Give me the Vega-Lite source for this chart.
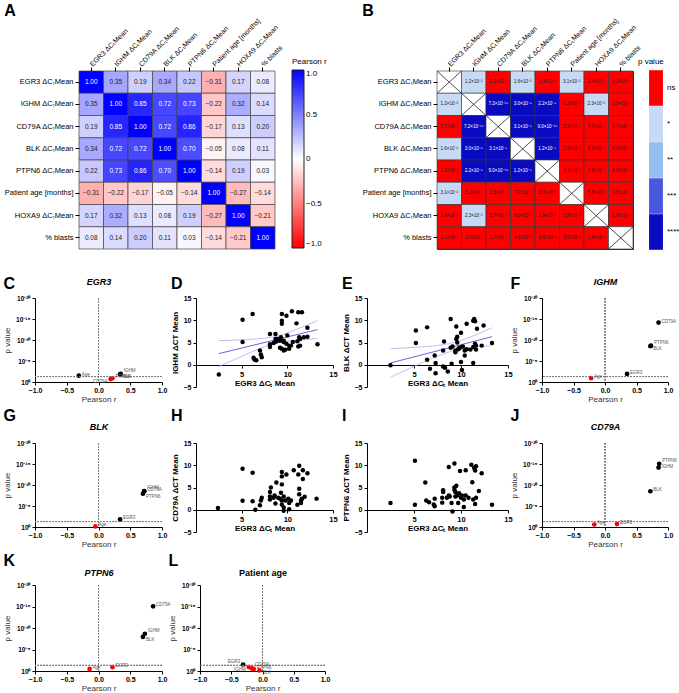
{
"$schema":"https://vega.github.io/schema/vega-lite/v6.json",
"padding":{"left":3,"top":2,"right":1,"bottom":0},
"background":"white",
"config":{
 "font":"Liberation Sans",
 "view":{"stroke":null},
 "axis":{"grid":false,"domainColor":"#000","tickColor":"#000","labelColor":"#000","titleColor":"#000","domainWidth":1,"tickWidth":1,"labelOverlap":false},
 "title":{"fontSize":16,"fontWeight":"bold","anchor":"start","frame":"bounds","color":"#000"}
},
"datasets":{
 "rmat":[
  {"row":"EGR3","EGR3":1.00,"IGHM":0.35,"CD79A":0.19,"BLK":0.34,"PTPN6":0.22,"Age":-0.31,"HOXA9":0.17,"blasts":0.08},
  {"row":"IGHM","EGR3":0.35,"IGHM":1.00,"CD79A":0.85,"BLK":0.72,"PTPN6":0.73,"Age":-0.22,"HOXA9":0.32,"blasts":0.14},
  {"row":"CD79A","EGR3":0.19,"IGHM":0.85,"CD79A":1.00,"BLK":0.72,"PTPN6":0.86,"Age":-0.17,"HOXA9":0.13,"blasts":0.20},
  {"row":"BLK","EGR3":0.34,"IGHM":0.72,"CD79A":0.72,"BLK":1.00,"PTPN6":0.70,"Age":-0.05,"HOXA9":0.08,"blasts":0.11},
  {"row":"PTPN6","EGR3":0.22,"IGHM":0.73,"CD79A":0.86,"BLK":0.70,"PTPN6":1.00,"Age":-0.14,"HOXA9":0.19,"blasts":0.03},
  {"row":"Age","EGR3":-0.31,"IGHM":-0.22,"CD79A":-0.17,"BLK":-0.05,"PTPN6":-0.14,"Age":1.00,"HOXA9":-0.27,"blasts":-0.14},
  {"row":"HOXA9","EGR3":0.17,"IGHM":0.32,"CD79A":0.13,"BLK":0.08,"PTPN6":0.19,"Age":-0.27,"HOXA9":1.00,"blasts":-0.21},
  {"row":"blasts","EGR3":0.08,"IGHM":0.14,"CD79A":0.20,"BLK":0.11,"PTPN6":0.03,"Age":-0.14,"HOXA9":-0.21,"blasts":1.00}
 ],
 "pmat":[
  {"row":"EGR3","EGR3":null,"IGHM":1.2e-2,"CD79A":2.0e-1,"BLK":1.6e-2,"PTPN6":1.3e-1,"Age":3.1e-2,"HOXA9":2.4e-1,"blasts":6.1e-1},
  {"row":"IGHM","EGR3":1.2e-2,"IGHM":null,"CD79A":7.2e-15,"BLK":3.0e-9,"PTPN6":2.2e-9,"Age":1.2e-1,"HOXA9":2.3e-2,"blasts":3.5e-1},
  {"row":"CD79A","EGR3":2.0e-1,"IGHM":7.2e-15,"CD79A":null,"BLK":3.1e-9,"PTPN6":9.0e-16,"Age":2.5e-1,"HOXA9":3.7e-1,"blasts":1.7e-1},
  {"row":"BLK","EGR3":1.6e-2,"IGHM":3.0e-9,"CD79A":3.1e-9,"BLK":null,"PTPN6":1.2e-8,"Age":7.2e-1,"HOXA9":6.0e-1,"blasts":4.5e-1},
  {"row":"PTPN6","EGR3":1.3e-1,"IGHM":2.2e-9,"CD79A":9.0e-16,"BLK":1.2e-8,"PTPN6":null,"Age":3.3e-1,"HOXA9":1.9e-1,"blasts":8.5e-1},
  {"row":"Age","EGR3":3.1e-2,"IGHM":1.2e-1,"CD79A":2.5e-1,"BLK":7.2e-1,"PTPN6":3.3e-1,"Age":null,"HOXA9":5.8e-2,"blasts":3.5e-1},
  {"row":"HOXA9","EGR3":2.4e-1,"IGHM":2.3e-2,"CD79A":3.7e-1,"BLK":6.0e-1,"PTPN6":1.9e-1,"Age":5.8e-2,"HOXA9":null,"blasts":1.6e-1},
  {"row":"blasts","EGR3":6.1e-1,"IGHM":3.5e-1,"CD79A":1.7e-1,"BLK":4.5e-1,"PTPN6":8.5e-1,"Age":3.5e-1,"HOXA9":1.6e-1,"blasts":null}
 ],
 "volc":[
  {"panel":"EGR3","gene":"IGHM","r":0.35,"p":1.2e-2},
  {"panel":"EGR3","gene":"CD79A","r":0.19,"p":2.0e-1},
  {"panel":"EGR3","gene":"BLK","r":0.34,"p":1.6e-2},
  {"panel":"EGR3","gene":"PTPN6","r":0.22,"p":1.3e-1},
  {"panel":"EGR3","gene":"Age","r":-0.31,"p":3.1e-2},
  {"panel":"IGHM","gene":"EGR3","r":0.35,"p":1.2e-2},
  {"panel":"IGHM","gene":"CD79A","r":0.85,"p":7.2e-15},
  {"panel":"IGHM","gene":"BLK","r":0.72,"p":3.0e-9},
  {"panel":"IGHM","gene":"PTPN6","r":0.73,"p":2.2e-9},
  {"panel":"IGHM","gene":"Age","r":-0.22,"p":1.2e-1},
  {"panel":"BLK","gene":"EGR3","r":0.34,"p":1.6e-2},
  {"panel":"BLK","gene":"IGHM","r":0.72,"p":3.0e-9},
  {"panel":"BLK","gene":"CD79A","r":0.72,"p":3.1e-9},
  {"panel":"BLK","gene":"PTPN6","r":0.70,"p":1.2e-8},
  {"panel":"BLK","gene":"Age","r":-0.05,"p":7.2e-1},
  {"panel":"CD79A","gene":"EGR3","r":0.19,"p":2.0e-1},
  {"panel":"CD79A","gene":"IGHM","r":0.85,"p":7.2e-15},
  {"panel":"CD79A","gene":"BLK","r":0.72,"p":3.1e-9},
  {"panel":"CD79A","gene":"PTPN6","r":0.86,"p":9.0e-16},
  {"panel":"CD79A","gene":"Age","r":-0.17,"p":2.5e-1},
  {"panel":"PTPN6","gene":"EGR3","r":0.22,"p":1.3e-1},
  {"panel":"PTPN6","gene":"IGHM","r":0.73,"p":2.2e-9},
  {"panel":"PTPN6","gene":"CD79A","r":0.86,"p":9.0e-16},
  {"panel":"PTPN6","gene":"BLK","r":0.70,"p":1.2e-8},
  {"panel":"PTPN6","gene":"Age","r":-0.14,"p":3.3e-1},
  {"panel":"Age","gene":"EGR3","r":-0.31,"p":3.1e-2},
  {"panel":"Age","gene":"IGHM","r":-0.22,"p":1.2e-1},
  {"panel":"Age","gene":"CD79A","r":-0.17,"p":2.5e-1},
  {"panel":"Age","gene":"BLK","r":-0.05,"p":7.2e-1},
  {"panel":"Age","gene":"PTPN6","r":-0.14,"p":3.3e-1}
 ],
 "dfit":[
  {"k":"fit","x":2.5,"y":2.5},{"k":"fit","x":13.3,"y":7.9},
  {"k":"lo","x":2.5,"y":-0.4},{"k":"lo","x":5,"y":1.88},{"k":"lo","x":7,"y":3.64},{"k":"lo","x":9,"y":5.05},{"k":"lo","x":11,"y":5.45},{"k":"lo","x":13.3,"y":5.9},
  {"k":"hi","x":2.5,"y":5.4},{"k":"hi","x":5,"y":5.62},{"k":"hi","x":7,"y":5.86},{"k":"hi","x":9,"y":6.45},{"k":"hi","x":11,"y":7.95},{"k":"hi","x":13.3,"y":9.9}
 ],
 "efit":[
  {"k":"fit","x":2.5,"y":0.4},{"k":"fit","x":13.3,"y":6.3},
  {"k":"lo","x":2.5,"y":-2.8},{"k":"lo","x":5,"y":-0.37},{"k":"lo","x":7,"y":1.49},{"k":"lo","x":9.3,"y":3.22},{"k":"lo","x":11,"y":3.86},{"k":"lo","x":13.3,"y":4.28},
  {"k":"hi","x":2.5,"y":3.6},{"k":"hi","x":5,"y":3.91},{"k":"hi","x":7,"y":4.23},{"k":"hi","x":9.3,"y":5.02},{"k":"hi","x":11,"y":6.22},{"k":"hi","x":13.3,"y":8.32}
 ],
 "dpts":[
  {"x":2.5,"y":-2.2},{"x":5.1,"y":10.1},{"x":5.1,"y":5.1},{"x":6.2,"y":11.4},{"x":6.3,"y":1.6},{"x":6.4,"y":1.2},{"x":6.6,"y":1.0},{"x":7.0,"y":3.2},{"x":7.1,"y":2.3},{"x":7.2,"y":1.7},
  {"x":8.1,"y":6.9},{"x":8.1,"y":4.6},{"x":8.1,"y":4.0},{"x":8.5,"y":4.9},{"x":8.7,"y":6.9},{"x":8.7,"y":5.8},{"x":8.8,"y":5.2},{"x":9.0,"y":5.8},{"x":9.2,"y":5.4},{"x":9.3,"y":6.2},
  {"x":9.4,"y":11.4},{"x":9.4,"y":9.9},{"x":9.4,"y":9.2},{"x":9.6,"y":5.4},{"x":9.6,"y":5.1},{"x":9.4,"y":3.6},{"x":9.6,"y":3.2},{"x":9.8,"y":3.4},{"x":9.9,"y":11.0},{"x":10.0,"y":6.6},
  {"x":9.9,"y":4.7},{"x":10.2,"y":4.3},{"x":10.4,"y":4.3},{"x":10.2,"y":3.6},{"x":10.5,"y":12.0},{"x":11.0,"y":9.3},{"x":11.2,"y":11.8},{"x":11.6,"y":11.8},{"x":11.3,"y":6.2},{"x":11.1,"y":5.3},
  {"x":11.4,"y":5.8},{"x":11.2,"y":4.1},{"x":11.4,"y":4.3},{"x":11.8,"y":6.2},{"x":12.2,"y":8.3},{"x":12.2,"y":6.3},{"x":13.3,"y":4.6},{"x":10.6,"y":5.1},{"x":9.2,"y":3.8}
 ],
 "epts":[
  {"x":2.5,"y":-0.1},{"x":5.2,"y":7.7},{"x":5.2,"y":4.9},{"x":6.4,"y":8.4},{"x":6.4,"y":1.1},{"x":6.7,"y":-0.9},{"x":7.2,"y":2.1},{"x":7.3,"y":0.4},{"x":7.3,"y":-1.9},{"x":8.1,"y":-0.4},
  {"x":8.3,"y":-0.7},{"x":8.2,"y":5.2},{"x":8.1,"y":3.2},{"x":8.6,"y":-1.5},{"x":8.9,"y":10.3},{"x":8.9,"y":3.8},{"x":9.0,"y":0.2},{"x":9.1,"y":4.1},{"x":9.4,"y":3.2},{"x":9.4,"y":2.8},
  {"x":9.5,"y":8.6},{"x":9.5,"y":5.8},{"x":9.6,"y":5.0},{"x":9.6,"y":6.3},{"x":9.7,"y":3.5},{"x":9.8,"y":3.7},{"x":9.9,"y":3.9},{"x":10.0,"y":7.2},{"x":10.0,"y":0.6},{"x":10.1,"y":-1.2},
  {"x":10.2,"y":4.1},{"x":10.4,"y":3.2},{"x":10.4,"y":2.1},{"x":10.6,"y":3.5},{"x":10.6,"y":9.2},{"x":11.0,"y":3.4},{"x":11.3,"y":9.9},{"x":11.4,"y":10.3},{"x":11.5,"y":9.8},{"x":11.3,"y":4.0},
  {"x":11.5,"y":4.7},{"x":11.6,"y":4.3},{"x":11.6,"y":3.4},{"x":11.7,"y":8.1},{"x":11.3,"y":0.4},{"x":12.2,"y":4.3},{"x":12.4,"y":8.8},{"x":13.3,"y":4.9}
 ],
 "hpts":[
  {"x":2.4,"y":0.4},{"x":5.1,"y":9.2},{"x":5.1,"y":2.0},{"x":6.2,"y":8.3},{"x":6.2,"y":1.9},{"x":6.5,"y":0.0},{"x":7.0,"y":1.0},{"x":7.1,"y":2.1},{"x":7.2,"y":2.7},{"x":8.1,"y":4.0},
  {"x":8.1,"y":3.0},{"x":8.1,"y":2.3},{"x":8.2,"y":5.0},{"x":8.5,"y":2.7},{"x":8.6,"y":3.2},{"x":8.7,"y":1.4},{"x":8.8,"y":6.1},{"x":9.0,"y":2.7},{"x":9.2,"y":2.5},{"x":9.3,"y":3.8},
  {"x":9.4,"y":2.1},{"x":9.4,"y":8.5},{"x":9.4,"y":7.5},{"x":9.4,"y":5.7},{"x":9.4,"y":1.2},{"x":9.6,"y":0.5},{"x":9.6,"y":-0.2},{"x":9.6,"y":3.0},{"x":9.8,"y":2.1},{"x":9.9,"y":7.9},
  {"x":10.1,"y":2.5},{"x":10.2,"y":1.5},{"x":10.2,"y":0.1},{"x":10.4,"y":2.1},{"x":10.7,"y":8.9},{"x":11.1,"y":1.1},{"x":11.3,"y":9.9},{"x":11.2,"y":7.9},{"x":11.3,"y":4.7},{"x":11.3,"y":3.5},
  {"x":11.5,"y":2.1},{"x":11.5,"y":1.5},{"x":11.6,"y":2.5},{"x":11.7,"y":8.9},{"x":11.7,"y":6.9},{"x":11.9,"y":2.9},{"x":12.2,"y":8.2},{"x":13.2,"y":2.5}
 ],
 "ipts":[
  {"x":2.5,"y":1.5},{"x":5.1,"y":11.0},{"x":5.1,"y":1.1},{"x":6.2,"y":6.1},{"x":6.3,"y":2.1},{"x":6.6,"y":1.7},{"x":7.1,"y":1.2},{"x":7.2,"y":2.5},{"x":7.2,"y":0.8},{"x":8.0,"y":2.7},
  {"x":8.1,"y":4.0},{"x":8.1,"y":4.4},{"x":8.0,"y":1.6},{"x":8.5,"y":2.7},{"x":8.7,"y":3.2},{"x":8.7,"y":9.6},{"x":8.8,"y":3.0},{"x":9.0,"y":1.5},{"x":9.1,"y":-0.4},{"x":9.3,"y":10.4},
  {"x":9.3,"y":4.5},{"x":9.3,"y":5.0},{"x":9.4,"y":4.0},{"x":9.4,"y":3.0},{"x":9.5,"y":5.4},{"x":9.6,"y":3.2},{"x":9.7,"y":1.5},{"x":9.8,"y":3.7},{"x":9.9,"y":8.7},{"x":10.0,"y":2.7},
  {"x":10.1,"y":3.2},{"x":10.3,"y":2.3},{"x":10.3,"y":0.6},{"x":10.5,"y":8.9},{"x":10.5,"y":3.2},{"x":10.8,"y":2.7},{"x":11.1,"y":10.1},{"x":11.2,"y":6.2},{"x":11.3,"y":2.3},{"x":11.4,"y":9.4},
  {"x":11.5,"y":8.8},{"x":11.6,"y":9.8},{"x":11.5,"y":1.3},{"x":11.6,"y":2.7},{"x":11.9,"y":4.2},{"x":12.2,"y":8.2},{"x":13.3,"y":1.1}
 ]
},
"concat":[
 {"hconcat":[
  {"title":{"text":"A","offset":-2},
   "width":240,"height":178,
   "data":{"name":"rmat"},
   "transform":[{"fold":["EGR3","IGHM","CD79A","BLK","PTPN6","Age","HOXA9","blasts"],"as":["col","r"]}],
   "encoding":{
    "x":{"field":"col","type":"nominal","sort":["EGR3","IGHM","CD79A","BLK","PTPN6","Age","HOXA9","blasts"],"scale":{"range":[44,240]},
         "axis":{"orient":"top","title":null,"labelAngle":-45,"labelAlign":"left","labelBaseline":"middle","labelFontSize":7,"domain":false,"tickSize":4,"labelPadding":2,
                 "labelExpr":"datum.value=='Age'?'Patient age [months]':datum.value=='blasts'?'% blasts':datum.value+' ΔCₜMean'"}},
    "y":{"field":"row","type":"nominal","sort":["EGR3","IGHM","CD79A","BLK","PTPN6","Age","HOXA9","blasts"],
         "axis":{"title":null,"offset":-44,"labelFontSize":7.5,"domain":false,"tickSize":4,"labelPadding":2,
                 "labelExpr":"datum.value=='Age'?'Patient age [months]':datum.value=='blasts'?'% blasts':datum.value+' ΔCₜMean'"}}
   },
   "layer":[
    {"mark":{"type":"rect","stroke":"#444","strokeWidth":0.7},
     "encoding":{"color":{"field":"r","type":"quantitative","scale":{"domain":[-1,0,1],"range":["#ff0000","#ffffff","#0000ff"],"interpolate":"rgb"},
       "legend":{"title":"Pearson r","orient":"none","legendX":257,"legendY":-13,"direction":"vertical","gradientLength":178,"gradientThickness":12,
                 "values":[-1,-0.5,0,0.5,1],"labelExpr":"datum.value==0?'0':format(datum.value,'.1f')","labelFontSize":8,"titleFontSize":8,"titleFontWeight":"normal","titlePadding":4,
                 "gradientStrokeColor":"#222","gradientStrokeWidth":1}}}},
    {"mark":{"type":"text","fontSize":6.5},
     "encoding":{"text":{"field":"r","type":"quantitative","format":".2f"},
                 "color":{"condition":{"test":"datum.r>0.6","value":"white"},"value":"#222"}}}
   ]
  },
  {"title":{"text":"B","offset":-2},
   "width":196,"height":178,
   "data":{"name":"pmat"},
   "view":{"stroke":"#333"},
   "transform":[
    {"fold":["EGR3","IGHM","CD79A","BLK","PTPN6","Age","HOXA9","blasts"],"as":["col","p"]},
    {"calculate":"datum.p==null?'diag':datum.p<=0.0001?'****':datum.p<=0.001?'***':datum.p<=0.01?'**':datum.p<=0.05?'*':'ns'","as":"sig"},
    {"calculate":"datum.p==null?0:floor(log(datum.p)/LN10+1e-9)","as":"e"},
    {"calculate":"datum.p==null?'':format(datum.p/pow(10,datum.e),'.1f')+'×10'+replace(replace(replace(replace(replace(replace(replace(replace(replace(replace(replace(toString(datum.e),'-','⁻'),regexp('0','g'),'⁰'),regexp('1','g'),'¹'),regexp('2','g'),'²'),regexp('3','g'),'³'),regexp('4','g'),'⁴'),regexp('5','g'),'⁵'),regexp('6','g'),'⁶'),regexp('7','g'),'⁷'),regexp('8','g'),'⁸'),regexp('9','g'),'⁹')","as":"lab"}
   ],
   "encoding":{
    "x":{"field":"col","type":"nominal","sort":["EGR3","IGHM","CD79A","BLK","PTPN6","Age","HOXA9","blasts"],
         "axis":{"orient":"top","title":null,"labelAngle":-45,"labelAlign":"left","labelBaseline":"middle","labelFontSize":7,"domain":false,"tickSize":4,"labelPadding":2,
                 "labelExpr":"datum.value=='Age'?'Patient age [months]':datum.value=='blasts'?'% blasts':datum.value+' ΔCₜMean'"}},
    "y":{"field":"row","type":"nominal","sort":["EGR3","IGHM","CD79A","BLK","PTPN6","Age","HOXA9","blasts"],
         "axis":{"title":null,"labelFontSize":7.5,"domain":false,"tickSize":4,"labelPadding":2,
                 "labelExpr":"datum.value=='Age'?'Patient age [months]':datum.value=='blasts'?'% blasts':datum.value+' ΔCₜMean'"}}
   },
   "layer":[
    {"mark":{"type":"rect","stroke":"#333","strokeWidth":0.6},
     "encoding":{"color":{"field":"sig","type":"nominal","scale":{"domain":["ns","*","**","***","****","diag"],"range":["#ff0000","#c6d9f5","#94bdf0","#4a58e0","#0a0ac0","#ffffff"]},
       "legend":{"title":"p value","orient":"none","legendX":201,"legendY":-13,"direction":"vertical","values":["ns","*","**","***","****"],
                 "symbolType":"M-0.39,-1V1H0.39V-1Z","symbolSize":1267,"symbolStrokeWidth":0,"symbolOpacity":1,"rowPadding":0,
                 "labelFontSize":8,"labelOffset":-7,"titleFontSize":8,"titleFontWeight":"normal","titlePadding":4}}}},
    {"transform":[{"filter":"datum.sig=='diag'"}],
     "mark":{"type":"point","shape":"M-1.1,-1L1.1,1M-1.1,1L1.1,-1","size":495,"filled":false,"stroke":"#222","strokeWidth":0.8,"opacity":1}},
    {"transform":[{"filter":"datum.sig!='diag'"}],
     "mark":{"type":"text","fontSize":4.6},
     "encoding":{"text":{"field":"lab"},"color":{"condition":{"test":"datum.sig=='****'","value":"white"},"value":"#222"}}}
   ]
  }
 ],"spacing":162,"bounds":"flush"},
 {"concat":[
  {"hconcat":[
   {"title":{"text":"C","offset":-15},
    "width":127,"height":84,
    "data":{"name":"volc"},
    "transform":[{"filter":"datum.panel=='EGR3'"},{"calculate":"-log(datum.p)/LN10","as":"nlp"},{"calculate":"datum.panel+'|'+datum.gene","as":"k"},
     {"calculate":"indexof(['EGR3|IGHM','IGHM|PTPN6','BLK|IGHM','CD79A|PTPN6','PTPN6|IGHM','Age|CD79A'],datum.k)>=0?'ru':indexof(['EGR3|BLK','IGHM|BLK','BLK|PTPN6','PTPN6|BLK','Age|BLK'],datum.k)>=0?'rd':indexof(['Age|EGR3'],datum.k)>=0?'lu':indexof(['EGR3|CD79A','Age|IGHM'],datum.k)>=0?'ld':'r'","as":"pos"}],
    "layer":[
     {"mark":{"type":"circle","size":22,"opacity":1},"encoding":{
       "x":{"field":"r","type":"quantitative","scale":{"domain":[-1,1]},"axis":{"values":[-1,-0.5,0,0.5,1],"format":".1f","title":"Pearson r","titleFontWeight":"normal","titleFontSize":8,"titleColor":"#333","labelFontSize":7,"labelFontWeight":"bold","tickSize":3,"labelPadding":1,"titlePadding":2,"labelFlush":false}},
       "y":{"field":"nlp","type":"quantitative","scale":{"domain":[0,20]},"axis":{"values":[0,5,10,15,20],"tickCount":5,"labelOverlap":false,"labelExpr":"datum.value==0?'10⁰':datum.value==5?'10⁻⁵':datum.value==10?'10⁻¹⁰':datum.value==15?'10⁻¹⁵':'10⁻²⁰'","title":"p value","titleFontWeight":"normal","titleFontSize":8,"titleColor":"#333","labelFontSize":6.5,"labelFontWeight":"bold","tickSize":3,"labelFlush":false}},
       "color":{"condition":{"test":"datum.p<0.05","value":"black"},"value":"red"}}},
     {"mark":{"type":"rule","strokeDash":[1.5,1.5],"color":"#777","strokeWidth":0.8},"encoding":{"y":{"datum":1.3,"type":"quantitative","axis":{"values":[0,5,10,15,20],"tickCount":5,"labelOverlap":false,"labelExpr":"datum.value==0?'10⁰':datum.value==5?'10⁻⁵':datum.value==10?'10⁻¹⁰':datum.value==15?'10⁻¹⁵':'10⁻²⁰'","title":"p value","titleFontWeight":"normal","titleFontSize":8,"titleColor":"#333","labelFontSize":6.5,"labelFontWeight":"bold","tickSize":3,"labelFlush":false}}}},
     {"mark":{"type":"rule","strokeDash":[1.5,1.5],"color":"#777","strokeWidth":0.8},"encoding":{"x":{"datum":0,"type":"quantitative","axis":null}}},
     {"mark":{"type":"point","opacity":0},"encoding":{"x":{"field":"r","type":"quantitative","axis":{"orient":"top","title":"EGR3","titleFontStyle":"italic","titleFontWeight":"bold","titleFontSize":9,"labels":false,"ticks":false,"domain":false,"titlePadding":12}}}},
     {"transform":[{"filter":"datum.pos=='r'"}],"mark":{"type":"text","fontSize":4.5,"color":"#555","align":"left","dx":3,"dy":-1},"encoding":{"x":{"field":"r","type":"quantitative","axis":null},"y":{"field":"nlp","type":"quantitative","axis":{"values":[0,5,10,15,20],"tickCount":5,"labelOverlap":false,"labelExpr":"datum.value==0?'10⁰':datum.value==5?'10⁻⁵':datum.value==10?'10⁻¹⁰':datum.value==15?'10⁻¹⁵':'10⁻²⁰'","title":"p value","titleFontWeight":"normal","titleFontSize":8,"titleColor":"#333","labelFontSize":6.5,"labelFontWeight":"bold","tickSize":3,"labelFlush":false}},"text":{"field":"gene"}}},
     {"transform":[{"filter":"datum.pos=='ru'"}],"mark":{"type":"text","fontSize":4.5,"color":"#555","align":"left","dx":3,"dy":-3},"encoding":{"x":{"field":"r","type":"quantitative","axis":null},"y":{"field":"nlp","type":"quantitative","axis":{"values":[0,5,10,15,20],"tickCount":5,"labelOverlap":false,"labelExpr":"datum.value==0?'10⁰':datum.value==5?'10⁻⁵':datum.value==10?'10⁻¹⁰':datum.value==15?'10⁻¹⁵':'10⁻²⁰'","title":"p value","titleFontWeight":"normal","titleFontSize":8,"titleColor":"#333","labelFontSize":6.5,"labelFontWeight":"bold","tickSize":3,"labelFlush":false}},"text":{"field":"gene"}}},
     {"transform":[{"filter":"datum.pos=='rd'"}],"mark":{"type":"text","fontSize":4.5,"color":"#555","align":"left","dx":3,"dy":3},"encoding":{"x":{"field":"r","type":"quantitative","axis":null},"y":{"field":"nlp","type":"quantitative","axis":{"values":[0,5,10,15,20],"tickCount":5,"labelOverlap":false,"labelExpr":"datum.value==0?'10⁰':datum.value==5?'10⁻⁵':datum.value==10?'10⁻¹⁰':datum.value==15?'10⁻¹⁵':'10⁻²⁰'","title":"p value","titleFontWeight":"normal","titleFontSize":8,"titleColor":"#333","labelFontSize":6.5,"labelFontWeight":"bold","tickSize":3,"labelFlush":false}},"text":{"field":"gene"}}},
     {"transform":[{"filter":"datum.pos=='lu'"}],"mark":{"type":"text","fontSize":4.5,"color":"#555","align":"right","dx":-3,"dy":-3},"encoding":{"x":{"field":"r","type":"quantitative","axis":null},"y":{"field":"nlp","type":"quantitative","axis":{"values":[0,5,10,15,20],"tickCount":5,"labelOverlap":false,"labelExpr":"datum.value==0?'10⁰':datum.value==5?'10⁻⁵':datum.value==10?'10⁻¹⁰':datum.value==15?'10⁻¹⁵':'10⁻²⁰'","title":"p value","titleFontWeight":"normal","titleFontSize":8,"titleColor":"#333","labelFontSize":6.5,"labelFontWeight":"bold","tickSize":3,"labelFlush":false}},"text":{"field":"gene"}}},
     {"transform":[{"filter":"datum.pos=='ld'"}],"mark":{"type":"text","fontSize":4.5,"color":"#555","align":"right","dx":-3,"dy":3},"encoding":{"x":{"field":"r","type":"quantitative","axis":null},"y":{"field":"nlp","type":"quantitative","axis":{"values":[0,5,10,15,20],"tickCount":5,"labelOverlap":false,"labelExpr":"datum.value==0?'10⁰':datum.value==5?'10⁻⁵':datum.value==10?'10⁻¹⁰':datum.value==15?'10⁻¹⁵':'10⁻²⁰'","title":"p value","titleFontWeight":"normal","titleFontSize":8,"titleColor":"#333","labelFontSize":6.5,"labelFontWeight":"bold","tickSize":3,"labelFlush":false}},"text":{"field":"gene"}}}
    ],
    "resolve":{"axis":{"x":"independent"}}
   },
   {"title":{"text":"D","offset":2},
    "width":137,"height":89,
    "encoding":{
     "x":{"field":"x","type":"quantitative","scale":{"domain":[0,15]},"axis":{"values":[0,5,10,15],"labelExpr":"datum.value==0?'':datum.label","offset":-22,"title":"EGR3 ΔCₜ Mean","titleFontSize":8,"titleFontWeight":"bold","labelFontSize":7.5,"labelFontWeight":"bold","tickSize":3,"titlePadding":2,"labelFlush":false}},
     "y":{"field":"y","type":"quantitative","scale":{"domain":[-5,15]},"axis":{"values":[-5,0,5,10,15],"title":"IGHM ΔCT Mean","titleFontSize":8,"titleFontWeight":"bold","labelFontSize":7,"labelFontWeight":"bold","tickSize":3,"labelFlush":false,"titlePadding":4}}
    },
    "layer":[
     {"data":{"name":"dfit"},"mark":{"type":"line","strokeWidth":0.8,"interpolate":"monotone"},"encoding":{"color":{"field":"k","type":"nominal","scale":{"domain":["fit","lo","hi"],"range":["#3c3cdc","#aeaef0","#aeaef0"]},"legend":null}}},
     {"data":{"name":"dpts"},"mark":{"type":"circle","size":20,"color":"black","opacity":1}}
    ]
   },
   {"title":{"text":"E","offset":2},
    "width":141,"height":89,
    "encoding":{
     "x":{"field":"x","type":"quantitative","scale":{"domain":[0,15]},"axis":{"values":[0,5,10,15],"labelExpr":"datum.value==0?'':datum.label","offset":-22,"title":"EGR3 ΔCₜ Mean","titleFontSize":8,"titleFontWeight":"bold","labelFontSize":7.5,"labelFontWeight":"bold","tickSize":3,"titlePadding":2,"labelFlush":false}},
     "y":{"field":"y","type":"quantitative","scale":{"domain":[-5,15]},"axis":{"values":[-5,0,5,10,15],"title":"BLK ΔCT Mean","titleFontSize":8,"titleFontWeight":"bold","labelFontSize":7,"labelFontWeight":"bold","tickSize":3,"labelFlush":false,"titlePadding":4}}
    },
    "layer":[
     {"data":{"name":"efit"},"mark":{"type":"line","strokeWidth":0.8,"interpolate":"monotone"},"encoding":{"color":{"field":"k","type":"nominal","scale":{"domain":["fit","lo","hi"],"range":["#3c3cdc","#aeaef0","#aeaef0"]},"legend":null}}},
     {"data":{"name":"epts"},"mark":{"type":"circle","size":20,"color":"black","opacity":1}}
    ]
   },
   {"title":{"text":"F","offset":-15},
    "width":126,"height":84,
    "data":{"name":"volc"},
    "transform":[{"filter":"datum.panel=='IGHM'"},{"calculate":"-log(datum.p)/LN10","as":"nlp"},{"calculate":"datum.panel+'|'+datum.gene","as":"k"},
     {"calculate":"indexof(['EGR3|IGHM','IGHM|PTPN6','BLK|IGHM','CD79A|PTPN6','PTPN6|IGHM','Age|CD79A'],datum.k)>=0?'ru':indexof(['EGR3|BLK','IGHM|BLK','BLK|PTPN6','PTPN6|BLK','Age|BLK'],datum.k)>=0?'rd':indexof(['Age|EGR3'],datum.k)>=0?'lu':indexof(['EGR3|CD79A','Age|IGHM'],datum.k)>=0?'ld':'r'","as":"pos"}],
    "layer":[
     {"mark":{"type":"circle","size":22,"opacity":1},"encoding":{
       "x":{"field":"r","type":"quantitative","scale":{"domain":[-1,1]},"axis":{"values":[-1,-0.5,0,0.5,1],"format":".1f","title":"Pearson r","titleFontWeight":"normal","titleFontSize":8,"titleColor":"#333","labelFontSize":7,"labelFontWeight":"bold","tickSize":3,"labelPadding":1,"titlePadding":2,"labelFlush":false}},
       "y":{"field":"nlp","type":"quantitative","scale":{"domain":[0,20]},"axis":{"values":[0,5,10,15,20],"tickCount":5,"labelOverlap":false,"labelExpr":"datum.value==0?'10⁰':datum.value==5?'10⁻⁵':datum.value==10?'10⁻¹⁰':datum.value==15?'10⁻¹⁵':'10⁻²⁰'","title":"p value","titleFontWeight":"normal","titleFontSize":8,"titleColor":"#333","labelFontSize":6.5,"labelFontWeight":"bold","tickSize":3,"labelFlush":false}},
       "color":{"condition":{"test":"datum.p<0.05","value":"black"},"value":"red"}}},
     {"mark":{"type":"rule","strokeDash":[1.5,1.5],"color":"#777","strokeWidth":0.8},"encoding":{"y":{"datum":1.3,"type":"quantitative","axis":{"values":[0,5,10,15,20],"tickCount":5,"labelOverlap":false,"labelExpr":"datum.value==0?'10⁰':datum.value==5?'10⁻⁵':datum.value==10?'10⁻¹⁰':datum.value==15?'10⁻¹⁵':'10⁻²⁰'","title":"p value","titleFontWeight":"normal","titleFontSize":8,"titleColor":"#333","labelFontSize":6.5,"labelFontWeight":"bold","tickSize":3,"labelFlush":false}}}},
     {"mark":{"type":"rule","strokeDash":[1.5,1.5],"color":"#777","strokeWidth":0.8},"encoding":{"x":{"datum":0,"type":"quantitative","axis":null}}},
     {"mark":{"type":"point","opacity":0},"encoding":{"x":{"field":"r","type":"quantitative","axis":{"orient":"top","title":"IGHM","titleFontStyle":"italic","titleFontWeight":"bold","titleFontSize":9,"labels":false,"ticks":false,"domain":false,"titlePadding":12}}}},
     {"transform":[{"filter":"datum.pos=='r'"}],"mark":{"type":"text","fontSize":4.5,"color":"#555","align":"left","dx":3,"dy":-1},"encoding":{"x":{"field":"r","type":"quantitative","axis":null},"y":{"field":"nlp","type":"quantitative","axis":{"values":[0,5,10,15,20],"tickCount":5,"labelOverlap":false,"labelExpr":"datum.value==0?'10⁰':datum.value==5?'10⁻⁵':datum.value==10?'10⁻¹⁰':datum.value==15?'10⁻¹⁵':'10⁻²⁰'","title":"p value","titleFontWeight":"normal","titleFontSize":8,"titleColor":"#333","labelFontSize":6.5,"labelFontWeight":"bold","tickSize":3,"labelFlush":false}},"text":{"field":"gene"}}},
     {"transform":[{"filter":"datum.pos=='ru'"}],"mark":{"type":"text","fontSize":4.5,"color":"#555","align":"left","dx":3,"dy":-3},"encoding":{"x":{"field":"r","type":"quantitative","axis":null},"y":{"field":"nlp","type":"quantitative","axis":{"values":[0,5,10,15,20],"tickCount":5,"labelOverlap":false,"labelExpr":"datum.value==0?'10⁰':datum.value==5?'10⁻⁵':datum.value==10?'10⁻¹⁰':datum.value==15?'10⁻¹⁵':'10⁻²⁰'","title":"p value","titleFontWeight":"normal","titleFontSize":8,"titleColor":"#333","labelFontSize":6.5,"labelFontWeight":"bold","tickSize":3,"labelFlush":false}},"text":{"field":"gene"}}},
     {"transform":[{"filter":"datum.pos=='rd'"}],"mark":{"type":"text","fontSize":4.5,"color":"#555","align":"left","dx":3,"dy":3},"encoding":{"x":{"field":"r","type":"quantitative","axis":null},"y":{"field":"nlp","type":"quantitative","axis":{"values":[0,5,10,15,20],"tickCount":5,"labelOverlap":false,"labelExpr":"datum.value==0?'10⁰':datum.value==5?'10⁻⁵':datum.value==10?'10⁻¹⁰':datum.value==15?'10⁻¹⁵':'10⁻²⁰'","title":"p value","titleFontWeight":"normal","titleFontSize":8,"titleColor":"#333","labelFontSize":6.5,"labelFontWeight":"bold","tickSize":3,"labelFlush":false}},"text":{"field":"gene"}}},
     {"transform":[{"filter":"datum.pos=='lu'"}],"mark":{"type":"text","fontSize":4.5,"color":"#555","align":"right","dx":-3,"dy":-3},"encoding":{"x":{"field":"r","type":"quantitative","axis":null},"y":{"field":"nlp","type":"quantitative","axis":{"values":[0,5,10,15,20],"tickCount":5,"labelOverlap":false,"labelExpr":"datum.value==0?'10⁰':datum.value==5?'10⁻⁵':datum.value==10?'10⁻¹⁰':datum.value==15?'10⁻¹⁵':'10⁻²⁰'","title":"p value","titleFontWeight":"normal","titleFontSize":8,"titleColor":"#333","labelFontSize":6.5,"labelFontWeight":"bold","tickSize":3,"labelFlush":false}},"text":{"field":"gene"}}},
     {"transform":[{"filter":"datum.pos=='ld'"}],"mark":{"type":"text","fontSize":4.5,"color":"#555","align":"right","dx":-3,"dy":3},"encoding":{"x":{"field":"r","type":"quantitative","axis":null},"y":{"field":"nlp","type":"quantitative","axis":{"values":[0,5,10,15,20],"tickCount":5,"labelOverlap":false,"labelExpr":"datum.value==0?'10⁰':datum.value==5?'10⁻⁵':datum.value==10?'10⁻¹⁰':datum.value==15?'10⁻¹⁵':'10⁻²⁰'","title":"p value","titleFontWeight":"normal","titleFontSize":8,"titleColor":"#333","labelFontSize":6.5,"labelFontWeight":"bold","tickSize":3,"labelFlush":false}},"text":{"field":"gene"}}}
    ],
    "resolve":{"axis":{"x":"independent"}}
   }
  ],"spacing":34,"bounds":"flush"},
  {"hconcat":[
   {"title":{"text":"G","offset":-2},
    "width":127,"height":84,
    "data":{"name":"volc"},
    "transform":[{"filter":"datum.panel=='BLK'"},{"calculate":"-log(datum.p)/LN10","as":"nlp"},{"calculate":"datum.panel+'|'+datum.gene","as":"k"},
     {"calculate":"indexof(['EGR3|IGHM','IGHM|PTPN6','BLK|IGHM','CD79A|PTPN6','PTPN6|IGHM','Age|CD79A'],datum.k)>=0?'ru':indexof(['EGR3|BLK','IGHM|BLK','BLK|PTPN6','PTPN6|BLK','Age|BLK'],datum.k)>=0?'rd':indexof(['Age|EGR3'],datum.k)>=0?'lu':indexof(['EGR3|CD79A','Age|IGHM'],datum.k)>=0?'ld':'r'","as":"pos"}],
    "layer":[
     {"mark":{"type":"circle","size":22,"opacity":1},"encoding":{
       "x":{"field":"r","type":"quantitative","scale":{"domain":[-1,1]},"axis":{"values":[-1,-0.5,0,0.5,1],"format":".1f","title":"Pearson r","titleFontWeight":"normal","titleFontSize":8,"titleColor":"#333","labelFontSize":7,"labelFontWeight":"bold","tickSize":3,"labelPadding":1,"titlePadding":2,"labelFlush":false}},
       "y":{"field":"nlp","type":"quantitative","scale":{"domain":[0,20]},"axis":{"values":[0,5,10,15,20],"tickCount":5,"labelOverlap":false,"labelExpr":"datum.value==0?'10⁰':datum.value==5?'10⁻⁵':datum.value==10?'10⁻¹⁰':datum.value==15?'10⁻¹⁵':'10⁻²⁰'","title":"p value","titleFontWeight":"normal","titleFontSize":8,"titleColor":"#333","labelFontSize":6.5,"labelFontWeight":"bold","tickSize":3,"labelFlush":false}},
       "color":{"condition":{"test":"datum.p<0.05","value":"black"},"value":"red"}}},
     {"mark":{"type":"rule","strokeDash":[1.5,1.5],"color":"#777","strokeWidth":0.8},"encoding":{"y":{"datum":1.3,"type":"quantitative","axis":{"values":[0,5,10,15,20],"tickCount":5,"labelOverlap":false,"labelExpr":"datum.value==0?'10⁰':datum.value==5?'10⁻⁵':datum.value==10?'10⁻¹⁰':datum.value==15?'10⁻¹⁵':'10⁻²⁰'","title":"p value","titleFontWeight":"normal","titleFontSize":8,"titleColor":"#333","labelFontSize":6.5,"labelFontWeight":"bold","tickSize":3,"labelFlush":false}}}},
     {"mark":{"type":"rule","strokeDash":[1.5,1.5],"color":"#777","strokeWidth":0.8},"encoding":{"x":{"datum":0,"type":"quantitative","axis":null}}},
     {"mark":{"type":"point","opacity":0},"encoding":{"x":{"field":"r","type":"quantitative","axis":{"orient":"top","title":"BLK","titleFontStyle":"italic","titleFontWeight":"bold","titleFontSize":9,"labels":false,"ticks":false,"domain":false,"titlePadding":12}}}},
     {"transform":[{"filter":"datum.pos=='r'"}],"mark":{"type":"text","fontSize":4.5,"color":"#555","align":"left","dx":3,"dy":-1},"encoding":{"x":{"field":"r","type":"quantitative","axis":null},"y":{"field":"nlp","type":"quantitative","axis":{"values":[0,5,10,15,20],"tickCount":5,"labelOverlap":false,"labelExpr":"datum.value==0?'10⁰':datum.value==5?'10⁻⁵':datum.value==10?'10⁻¹⁰':datum.value==15?'10⁻¹⁵':'10⁻²⁰'","title":"p value","titleFontWeight":"normal","titleFontSize":8,"titleColor":"#333","labelFontSize":6.5,"labelFontWeight":"bold","tickSize":3,"labelFlush":false}},"text":{"field":"gene"}}},
     {"transform":[{"filter":"datum.pos=='ru'"}],"mark":{"type":"text","fontSize":4.5,"color":"#555","align":"left","dx":3,"dy":-3},"encoding":{"x":{"field":"r","type":"quantitative","axis":null},"y":{"field":"nlp","type":"quantitative","axis":{"values":[0,5,10,15,20],"tickCount":5,"labelOverlap":false,"labelExpr":"datum.value==0?'10⁰':datum.value==5?'10⁻⁵':datum.value==10?'10⁻¹⁰':datum.value==15?'10⁻¹⁵':'10⁻²⁰'","title":"p value","titleFontWeight":"normal","titleFontSize":8,"titleColor":"#333","labelFontSize":6.5,"labelFontWeight":"bold","tickSize":3,"labelFlush":false}},"text":{"field":"gene"}}},
     {"transform":[{"filter":"datum.pos=='rd'"}],"mark":{"type":"text","fontSize":4.5,"color":"#555","align":"left","dx":3,"dy":3},"encoding":{"x":{"field":"r","type":"quantitative","axis":null},"y":{"field":"nlp","type":"quantitative","axis":{"values":[0,5,10,15,20],"tickCount":5,"labelOverlap":false,"labelExpr":"datum.value==0?'10⁰':datum.value==5?'10⁻⁵':datum.value==10?'10⁻¹⁰':datum.value==15?'10⁻¹⁵':'10⁻²⁰'","title":"p value","titleFontWeight":"normal","titleFontSize":8,"titleColor":"#333","labelFontSize":6.5,"labelFontWeight":"bold","tickSize":3,"labelFlush":false}},"text":{"field":"gene"}}},
     {"transform":[{"filter":"datum.pos=='lu'"}],"mark":{"type":"text","fontSize":4.5,"color":"#555","align":"right","dx":-3,"dy":-3},"encoding":{"x":{"field":"r","type":"quantitative","axis":null},"y":{"field":"nlp","type":"quantitative","axis":{"values":[0,5,10,15,20],"tickCount":5,"labelOverlap":false,"labelExpr":"datum.value==0?'10⁰':datum.value==5?'10⁻⁵':datum.value==10?'10⁻¹⁰':datum.value==15?'10⁻¹⁵':'10⁻²⁰'","title":"p value","titleFontWeight":"normal","titleFontSize":8,"titleColor":"#333","labelFontSize":6.5,"labelFontWeight":"bold","tickSize":3,"labelFlush":false}},"text":{"field":"gene"}}},
     {"transform":[{"filter":"datum.pos=='ld'"}],"mark":{"type":"text","fontSize":4.5,"color":"#555","align":"right","dx":-3,"dy":3},"encoding":{"x":{"field":"r","type":"quantitative","axis":null},"y":{"field":"nlp","type":"quantitative","axis":{"values":[0,5,10,15,20],"tickCount":5,"labelOverlap":false,"labelExpr":"datum.value==0?'10⁰':datum.value==5?'10⁻⁵':datum.value==10?'10⁻¹⁰':datum.value==15?'10⁻¹⁵':'10⁻²⁰'","title":"p value","titleFontWeight":"normal","titleFontSize":8,"titleColor":"#333","labelFontSize":6.5,"labelFontWeight":"bold","tickSize":3,"labelFlush":false}},"text":{"field":"gene"}}}
    ],
    "resolve":{"axis":{"x":"independent"}}
   },
   {"title":{"text":"H","offset":15},
    "width":137,"height":89,
    "data":{"name":"hpts"},
    "mark":{"type":"circle","size":20,"color":"black","opacity":1},
    "encoding":{
     "x":{"field":"x","type":"quantitative","scale":{"domain":[0,15]},"axis":{"values":[0,5,10,15],"labelExpr":"datum.value==0?'':datum.label","offset":-22,"title":"EGR3 ΔCₜ Mean","titleFontSize":8,"titleFontWeight":"bold","labelFontSize":7.5,"labelFontWeight":"bold","tickSize":3,"titlePadding":2,"labelFlush":false}},
     "y":{"field":"y","type":"quantitative","scale":{"domain":[-5,15]},"axis":{"values":[-5,0,5,10,15],"title":"CD79A ΔCT Mean","titleFontSize":8,"titleFontWeight":"bold","labelFontSize":7,"labelFontWeight":"bold","tickSize":3,"labelFlush":false,"titlePadding":4}}
    }
   },
   {"title":{"text":"I","offset":15},
    "width":141,"height":89,
    "data":{"name":"ipts"},
    "mark":{"type":"circle","size":20,"color":"black","opacity":1},
    "encoding":{
     "x":{"field":"x","type":"quantitative","scale":{"domain":[0,15]},"axis":{"values":[0,5,10,15],"labelExpr":"datum.value==0?'':datum.label","offset":-22,"title":"EGR3 ΔCₜ Mean","titleFontSize":8,"titleFontWeight":"bold","labelFontSize":7.5,"labelFontWeight":"bold","tickSize":3,"titlePadding":2,"labelFlush":false}},
     "y":{"field":"y","type":"quantitative","scale":{"domain":[-5,15]},"axis":{"values":[-5,0,5,10,15],"title":"PTPN6 ΔCT Mean","titleFontSize":8,"titleFontWeight":"bold","labelFontSize":7,"labelFontWeight":"bold","tickSize":3,"labelFlush":false,"titlePadding":4}}
    }
   },
   {"title":{"text":"J","offset":-2},
    "width":126,"height":84,
    "data":{"name":"volc"},
    "transform":[{"filter":"datum.panel=='CD79A'"},{"calculate":"-log(datum.p)/LN10","as":"nlp"},{"calculate":"datum.panel+'|'+datum.gene","as":"k"},
     {"calculate":"indexof(['EGR3|IGHM','IGHM|PTPN6','BLK|IGHM','CD79A|PTPN6','PTPN6|IGHM','Age|CD79A'],datum.k)>=0?'ru':indexof(['EGR3|BLK','IGHM|BLK','BLK|PTPN6','PTPN6|BLK','Age|BLK'],datum.k)>=0?'rd':indexof(['Age|EGR3'],datum.k)>=0?'lu':indexof(['EGR3|CD79A','Age|IGHM'],datum.k)>=0?'ld':'r'","as":"pos"}],
    "layer":[
     {"mark":{"type":"circle","size":22,"opacity":1},"encoding":{
       "x":{"field":"r","type":"quantitative","scale":{"domain":[-1,1]},"axis":{"values":[-1,-0.5,0,0.5,1],"format":".1f","title":"Pearson r","titleFontWeight":"normal","titleFontSize":8,"titleColor":"#333","labelFontSize":7,"labelFontWeight":"bold","tickSize":3,"labelPadding":1,"titlePadding":2,"labelFlush":false}},
       "y":{"field":"nlp","type":"quantitative","scale":{"domain":[0,20]},"axis":{"values":[0,5,10,15,20],"tickCount":5,"labelOverlap":false,"labelExpr":"datum.value==0?'10⁰':datum.value==5?'10⁻⁵':datum.value==10?'10⁻¹⁰':datum.value==15?'10⁻¹⁵':'10⁻²⁰'","title":"p value","titleFontWeight":"normal","titleFontSize":8,"titleColor":"#333","labelFontSize":6.5,"labelFontWeight":"bold","tickSize":3,"labelFlush":false}},
       "color":{"condition":{"test":"datum.p<0.05","value":"black"},"value":"red"}}},
     {"mark":{"type":"rule","strokeDash":[1.5,1.5],"color":"#777","strokeWidth":0.8},"encoding":{"y":{"datum":1.3,"type":"quantitative","axis":{"values":[0,5,10,15,20],"tickCount":5,"labelOverlap":false,"labelExpr":"datum.value==0?'10⁰':datum.value==5?'10⁻⁵':datum.value==10?'10⁻¹⁰':datum.value==15?'10⁻¹⁵':'10⁻²⁰'","title":"p value","titleFontWeight":"normal","titleFontSize":8,"titleColor":"#333","labelFontSize":6.5,"labelFontWeight":"bold","tickSize":3,"labelFlush":false}}}},
     {"mark":{"type":"rule","strokeDash":[1.5,1.5],"color":"#777","strokeWidth":0.8},"encoding":{"x":{"datum":0,"type":"quantitative","axis":null}}},
     {"mark":{"type":"point","opacity":0},"encoding":{"x":{"field":"r","type":"quantitative","axis":{"orient":"top","title":"CD79A","titleFontStyle":"italic","titleFontWeight":"bold","titleFontSize":9,"labels":false,"ticks":false,"domain":false,"titlePadding":12}}}},
     {"transform":[{"filter":"datum.pos=='r'"}],"mark":{"type":"text","fontSize":4.5,"color":"#555","align":"left","dx":3,"dy":-1},"encoding":{"x":{"field":"r","type":"quantitative","axis":null},"y":{"field":"nlp","type":"quantitative","axis":{"values":[0,5,10,15,20],"tickCount":5,"labelOverlap":false,"labelExpr":"datum.value==0?'10⁰':datum.value==5?'10⁻⁵':datum.value==10?'10⁻¹⁰':datum.value==15?'10⁻¹⁵':'10⁻²⁰'","title":"p value","titleFontWeight":"normal","titleFontSize":8,"titleColor":"#333","labelFontSize":6.5,"labelFontWeight":"bold","tickSize":3,"labelFlush":false}},"text":{"field":"gene"}}},
     {"transform":[{"filter":"datum.pos=='ru'"}],"mark":{"type":"text","fontSize":4.5,"color":"#555","align":"left","dx":3,"dy":-3},"encoding":{"x":{"field":"r","type":"quantitative","axis":null},"y":{"field":"nlp","type":"quantitative","axis":{"values":[0,5,10,15,20],"tickCount":5,"labelOverlap":false,"labelExpr":"datum.value==0?'10⁰':datum.value==5?'10⁻⁵':datum.value==10?'10⁻¹⁰':datum.value==15?'10⁻¹⁵':'10⁻²⁰'","title":"p value","titleFontWeight":"normal","titleFontSize":8,"titleColor":"#333","labelFontSize":6.5,"labelFontWeight":"bold","tickSize":3,"labelFlush":false}},"text":{"field":"gene"}}},
     {"transform":[{"filter":"datum.pos=='rd'"}],"mark":{"type":"text","fontSize":4.5,"color":"#555","align":"left","dx":3,"dy":3},"encoding":{"x":{"field":"r","type":"quantitative","axis":null},"y":{"field":"nlp","type":"quantitative","axis":{"values":[0,5,10,15,20],"tickCount":5,"labelOverlap":false,"labelExpr":"datum.value==0?'10⁰':datum.value==5?'10⁻⁵':datum.value==10?'10⁻¹⁰':datum.value==15?'10⁻¹⁵':'10⁻²⁰'","title":"p value","titleFontWeight":"normal","titleFontSize":8,"titleColor":"#333","labelFontSize":6.5,"labelFontWeight":"bold","tickSize":3,"labelFlush":false}},"text":{"field":"gene"}}},
     {"transform":[{"filter":"datum.pos=='lu'"}],"mark":{"type":"text","fontSize":4.5,"color":"#555","align":"right","dx":-3,"dy":-3},"encoding":{"x":{"field":"r","type":"quantitative","axis":null},"y":{"field":"nlp","type":"quantitative","axis":{"values":[0,5,10,15,20],"tickCount":5,"labelOverlap":false,"labelExpr":"datum.value==0?'10⁰':datum.value==5?'10⁻⁵':datum.value==10?'10⁻¹⁰':datum.value==15?'10⁻¹⁵':'10⁻²⁰'","title":"p value","titleFontWeight":"normal","titleFontSize":8,"titleColor":"#333","labelFontSize":6.5,"labelFontWeight":"bold","tickSize":3,"labelFlush":false}},"text":{"field":"gene"}}},
     {"transform":[{"filter":"datum.pos=='ld'"}],"mark":{"type":"text","fontSize":4.5,"color":"#555","align":"right","dx":-3,"dy":3},"encoding":{"x":{"field":"r","type":"quantitative","axis":null},"y":{"field":"nlp","type":"quantitative","axis":{"values":[0,5,10,15,20],"tickCount":5,"labelOverlap":false,"labelExpr":"datum.value==0?'10⁰':datum.value==5?'10⁻⁵':datum.value==10?'10⁻¹⁰':datum.value==15?'10⁻¹⁵':'10⁻²⁰'","title":"p value","titleFontWeight":"normal","titleFontSize":8,"titleColor":"#333","labelFontSize":6.5,"labelFontWeight":"bold","tickSize":3,"labelFlush":false}},"text":{"field":"gene"}}}
    ],
    "resolve":{"axis":{"x":"independent"}}
   }
  ],"spacing":34,"bounds":"flush"},
  {"hconcat":[
   {"title":{"text":"K","offset":-1},
    "width":127,"height":86,
    "data":{"name":"volc"},
    "transform":[{"filter":"datum.panel=='PTPN6'"},{"calculate":"-log(datum.p)/LN10","as":"nlp"},{"calculate":"datum.panel+'|'+datum.gene","as":"k"},
     {"calculate":"indexof(['EGR3|IGHM','IGHM|PTPN6','BLK|IGHM','CD79A|PTPN6','PTPN6|IGHM','Age|CD79A'],datum.k)>=0?'ru':indexof(['EGR3|BLK','IGHM|BLK','BLK|PTPN6','PTPN6|BLK','Age|BLK'],datum.k)>=0?'rd':indexof(['Age|EGR3'],datum.k)>=0?'lu':indexof(['EGR3|CD79A','Age|IGHM'],datum.k)>=0?'ld':'r'","as":"pos"}],
    "layer":[
     {"mark":{"type":"circle","size":22,"opacity":1},"encoding":{
       "x":{"field":"r","type":"quantitative","scale":{"domain":[-1,1]},"axis":{"values":[-1,-0.5,0,0.5,1],"format":".1f","title":"Pearson r","titleFontWeight":"normal","titleFontSize":8,"titleColor":"#333","labelFontSize":7,"labelFontWeight":"bold","tickSize":3,"labelPadding":1,"titlePadding":2,"labelFlush":false}},
       "y":{"field":"nlp","type":"quantitative","scale":{"domain":[0,20]},"axis":{"values":[0,5,10,15,20],"tickCount":5,"labelOverlap":false,"labelExpr":"datum.value==0?'10⁰':datum.value==5?'10⁻⁵':datum.value==10?'10⁻¹⁰':datum.value==15?'10⁻¹⁵':'10⁻²⁰'","title":"p value","titleFontWeight":"normal","titleFontSize":8,"titleColor":"#333","labelFontSize":6.5,"labelFontWeight":"bold","tickSize":3,"labelFlush":false}},
       "color":{"condition":{"test":"datum.p<0.05","value":"black"},"value":"red"}}},
     {"mark":{"type":"rule","strokeDash":[1.5,1.5],"color":"#777","strokeWidth":0.8},"encoding":{"y":{"datum":1.3,"type":"quantitative","axis":{"values":[0,5,10,15,20],"tickCount":5,"labelOverlap":false,"labelExpr":"datum.value==0?'10⁰':datum.value==5?'10⁻⁵':datum.value==10?'10⁻¹⁰':datum.value==15?'10⁻¹⁵':'10⁻²⁰'","title":"p value","titleFontWeight":"normal","titleFontSize":8,"titleColor":"#333","labelFontSize":6.5,"labelFontWeight":"bold","tickSize":3,"labelFlush":false}}}},
     {"mark":{"type":"rule","strokeDash":[1.5,1.5],"color":"#777","strokeWidth":0.8},"encoding":{"x":{"datum":0,"type":"quantitative","axis":null}}},
     {"mark":{"type":"point","opacity":0},"encoding":{"x":{"field":"r","type":"quantitative","axis":{"orient":"top","title":"PTPN6","titleFontStyle":"italic","titleFontWeight":"bold","titleFontSize":9,"labels":false,"ticks":false,"domain":false,"titlePadding":8}}}},
     {"transform":[{"filter":"datum.pos=='r'"}],"mark":{"type":"text","fontSize":4.5,"color":"#555","align":"left","dx":3,"dy":-1},"encoding":{"x":{"field":"r","type":"quantitative","axis":null},"y":{"field":"nlp","type":"quantitative","axis":{"values":[0,5,10,15,20],"tickCount":5,"labelOverlap":false,"labelExpr":"datum.value==0?'10⁰':datum.value==5?'10⁻⁵':datum.value==10?'10⁻¹⁰':datum.value==15?'10⁻¹⁵':'10⁻²⁰'","title":"p value","titleFontWeight":"normal","titleFontSize":8,"titleColor":"#333","labelFontSize":6.5,"labelFontWeight":"bold","tickSize":3,"labelFlush":false}},"text":{"field":"gene"}}},
     {"transform":[{"filter":"datum.pos=='ru'"}],"mark":{"type":"text","fontSize":4.5,"color":"#555","align":"left","dx":3,"dy":-3},"encoding":{"x":{"field":"r","type":"quantitative","axis":null},"y":{"field":"nlp","type":"quantitative","axis":{"values":[0,5,10,15,20],"tickCount":5,"labelOverlap":false,"labelExpr":"datum.value==0?'10⁰':datum.value==5?'10⁻⁵':datum.value==10?'10⁻¹⁰':datum.value==15?'10⁻¹⁵':'10⁻²⁰'","title":"p value","titleFontWeight":"normal","titleFontSize":8,"titleColor":"#333","labelFontSize":6.5,"labelFontWeight":"bold","tickSize":3,"labelFlush":false}},"text":{"field":"gene"}}},
     {"transform":[{"filter":"datum.pos=='rd'"}],"mark":{"type":"text","fontSize":4.5,"color":"#555","align":"left","dx":3,"dy":3},"encoding":{"x":{"field":"r","type":"quantitative","axis":null},"y":{"field":"nlp","type":"quantitative","axis":{"values":[0,5,10,15,20],"tickCount":5,"labelOverlap":false,"labelExpr":"datum.value==0?'10⁰':datum.value==5?'10⁻⁵':datum.value==10?'10⁻¹⁰':datum.value==15?'10⁻¹⁵':'10⁻²⁰'","title":"p value","titleFontWeight":"normal","titleFontSize":8,"titleColor":"#333","labelFontSize":6.5,"labelFontWeight":"bold","tickSize":3,"labelFlush":false}},"text":{"field":"gene"}}},
     {"transform":[{"filter":"datum.pos=='lu'"}],"mark":{"type":"text","fontSize":4.5,"color":"#555","align":"right","dx":-3,"dy":-3},"encoding":{"x":{"field":"r","type":"quantitative","axis":null},"y":{"field":"nlp","type":"quantitative","axis":{"values":[0,5,10,15,20],"tickCount":5,"labelOverlap":false,"labelExpr":"datum.value==0?'10⁰':datum.value==5?'10⁻⁵':datum.value==10?'10⁻¹⁰':datum.value==15?'10⁻¹⁵':'10⁻²⁰'","title":"p value","titleFontWeight":"normal","titleFontSize":8,"titleColor":"#333","labelFontSize":6.5,"labelFontWeight":"bold","tickSize":3,"labelFlush":false}},"text":{"field":"gene"}}},
     {"transform":[{"filter":"datum.pos=='ld'"}],"mark":{"type":"text","fontSize":4.5,"color":"#555","align":"right","dx":-3,"dy":3},"encoding":{"x":{"field":"r","type":"quantitative","axis":null},"y":{"field":"nlp","type":"quantitative","axis":{"values":[0,5,10,15,20],"tickCount":5,"labelOverlap":false,"labelExpr":"datum.value==0?'10⁰':datum.value==5?'10⁻⁵':datum.value==10?'10⁻¹⁰':datum.value==15?'10⁻¹⁵':'10⁻²⁰'","title":"p value","titleFontWeight":"normal","titleFontSize":8,"titleColor":"#333","labelFontSize":6.5,"labelFontWeight":"bold","tickSize":3,"labelFlush":false}},"text":{"field":"gene"}}}
    ],
    "resolve":{"axis":{"x":"independent"}}
   },
   {"title":{"text":"L","offset":-1},
    "width":125,"height":86,
    "data":{"name":"volc"},
    "transform":[{"filter":"datum.panel=='Age'"},{"calculate":"-log(datum.p)/LN10","as":"nlp"},{"calculate":"datum.panel+'|'+datum.gene","as":"k"},
     {"calculate":"indexof(['EGR3|IGHM','IGHM|PTPN6','BLK|IGHM','CD79A|PTPN6','PTPN6|IGHM','Age|CD79A'],datum.k)>=0?'ru':indexof(['EGR3|BLK','IGHM|BLK','BLK|PTPN6','PTPN6|BLK','Age|BLK'],datum.k)>=0?'rd':indexof(['Age|EGR3'],datum.k)>=0?'lu':indexof(['EGR3|CD79A','Age|IGHM'],datum.k)>=0?'ld':'r'","as":"pos"}],
    "layer":[
     {"mark":{"type":"circle","size":22,"opacity":1},"encoding":{
       "x":{"field":"r","type":"quantitative","scale":{"domain":[-1,1]},"axis":{"values":[-1,-0.5,0,0.5,1],"format":".1f","title":"Pearson r","titleFontWeight":"normal","titleFontSize":8,"titleColor":"#333","labelFontSize":7,"labelFontWeight":"bold","tickSize":3,"labelPadding":1,"titlePadding":2,"labelFlush":false}},
       "y":{"field":"nlp","type":"quantitative","scale":{"domain":[0,20]},"axis":{"values":[0,5,10,15,20],"tickCount":5,"labelOverlap":false,"labelExpr":"datum.value==0?'10⁰':datum.value==5?'10⁻⁵':datum.value==10?'10⁻¹⁰':datum.value==15?'10⁻¹⁵':'10⁻²⁰'","title":"p value","titleFontWeight":"normal","titleFontSize":8,"titleColor":"#333","labelFontSize":6.5,"labelFontWeight":"bold","tickSize":3,"labelFlush":false}},
       "color":{"condition":{"test":"datum.p<0.05","value":"black"},"value":"red"}}},
     {"mark":{"type":"rule","strokeDash":[1.5,1.5],"color":"#777","strokeWidth":0.8},"encoding":{"y":{"datum":1.3,"type":"quantitative","axis":{"values":[0,5,10,15,20],"tickCount":5,"labelOverlap":false,"labelExpr":"datum.value==0?'10⁰':datum.value==5?'10⁻⁵':datum.value==10?'10⁻¹⁰':datum.value==15?'10⁻¹⁵':'10⁻²⁰'","title":"p value","titleFontWeight":"normal","titleFontSize":8,"titleColor":"#333","labelFontSize":6.5,"labelFontWeight":"bold","tickSize":3,"labelFlush":false}}}},
     {"mark":{"type":"rule","strokeDash":[1.5,1.5],"color":"#777","strokeWidth":0.8},"encoding":{"x":{"datum":0,"type":"quantitative","axis":null}}},
     {"mark":{"type":"point","opacity":0},"encoding":{"x":{"field":"r","type":"quantitative","axis":{"orient":"top","title":"Patient age","titleFontWeight":"bold","titleFontSize":9,"labels":false,"ticks":false,"domain":false,"titlePadding":8}}}},
     {"transform":[{"filter":"datum.pos=='r'"}],"mark":{"type":"text","fontSize":4.5,"color":"#555","align":"left","dx":3,"dy":-1},"encoding":{"x":{"field":"r","type":"quantitative","axis":null},"y":{"field":"nlp","type":"quantitative","axis":{"values":[0,5,10,15,20],"tickCount":5,"labelOverlap":false,"labelExpr":"datum.value==0?'10⁰':datum.value==5?'10⁻⁵':datum.value==10?'10⁻¹⁰':datum.value==15?'10⁻¹⁵':'10⁻²⁰'","title":"p value","titleFontWeight":"normal","titleFontSize":8,"titleColor":"#333","labelFontSize":6.5,"labelFontWeight":"bold","tickSize":3,"labelFlush":false}},"text":{"field":"gene"}}},
     {"transform":[{"filter":"datum.pos=='ru'"}],"mark":{"type":"text","fontSize":4.5,"color":"#555","align":"left","dx":3,"dy":-3},"encoding":{"x":{"field":"r","type":"quantitative","axis":null},"y":{"field":"nlp","type":"quantitative","axis":{"values":[0,5,10,15,20],"tickCount":5,"labelOverlap":false,"labelExpr":"datum.value==0?'10⁰':datum.value==5?'10⁻⁵':datum.value==10?'10⁻¹⁰':datum.value==15?'10⁻¹⁵':'10⁻²⁰'","title":"p value","titleFontWeight":"normal","titleFontSize":8,"titleColor":"#333","labelFontSize":6.5,"labelFontWeight":"bold","tickSize":3,"labelFlush":false}},"text":{"field":"gene"}}},
     {"transform":[{"filter":"datum.pos=='rd'"}],"mark":{"type":"text","fontSize":4.5,"color":"#555","align":"left","dx":3,"dy":3},"encoding":{"x":{"field":"r","type":"quantitative","axis":null},"y":{"field":"nlp","type":"quantitative","axis":{"values":[0,5,10,15,20],"tickCount":5,"labelOverlap":false,"labelExpr":"datum.value==0?'10⁰':datum.value==5?'10⁻⁵':datum.value==10?'10⁻¹⁰':datum.value==15?'10⁻¹⁵':'10⁻²⁰'","title":"p value","titleFontWeight":"normal","titleFontSize":8,"titleColor":"#333","labelFontSize":6.5,"labelFontWeight":"bold","tickSize":3,"labelFlush":false}},"text":{"field":"gene"}}},
     {"transform":[{"filter":"datum.pos=='lu'"}],"mark":{"type":"text","fontSize":4.5,"color":"#555","align":"right","dx":-3,"dy":-3},"encoding":{"x":{"field":"r","type":"quantitative","axis":null},"y":{"field":"nlp","type":"quantitative","axis":{"values":[0,5,10,15,20],"tickCount":5,"labelOverlap":false,"labelExpr":"datum.value==0?'10⁰':datum.value==5?'10⁻⁵':datum.value==10?'10⁻¹⁰':datum.value==15?'10⁻¹⁵':'10⁻²⁰'","title":"p value","titleFontWeight":"normal","titleFontSize":8,"titleColor":"#333","labelFontSize":6.5,"labelFontWeight":"bold","tickSize":3,"labelFlush":false}},"text":{"field":"gene"}}},
     {"transform":[{"filter":"datum.pos=='ld'"}],"mark":{"type":"text","fontSize":4.5,"color":"#555","align":"right","dx":-3,"dy":3},"encoding":{"x":{"field":"r","type":"quantitative","axis":null},"y":{"field":"nlp","type":"quantitative","axis":{"values":[0,5,10,15,20],"tickCount":5,"labelOverlap":false,"labelExpr":"datum.value==0?'10⁰':datum.value==5?'10⁻⁵':datum.value==10?'10⁻¹⁰':datum.value==15?'10⁻¹⁵':'10⁻²⁰'","title":"p value","titleFontWeight":"normal","titleFontSize":8,"titleColor":"#333","labelFontSize":6.5,"labelFontWeight":"bold","tickSize":3,"labelFlush":false}},"text":{"field":"gene"}}}
    ],
    "resolve":{"axis":{"x":"independent"}}
   }
  ],"spacing":38,"bounds":"flush"}
 ],"columns":1,"align":"none","spacing":5}
],
"columns":1,
"align":"none",
"spacing":24
}
